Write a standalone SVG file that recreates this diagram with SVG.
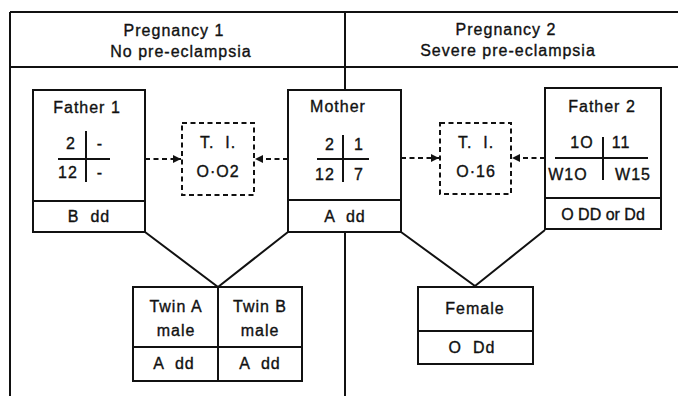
<svg xmlns="http://www.w3.org/2000/svg" width="678" height="396" viewBox="0 0 678 396">
<style>
text{font-family:"Liberation Sans","DejaVu Sans",sans-serif;font-size:16px;fill:#111;stroke:#111;stroke-width:0.35;text-anchor:middle;letter-spacing:1px;white-space:pre}
.b{fill:#fff;stroke:#111;stroke-width:2}
.l{stroke:#111;stroke-width:2;fill:none}
.d{stroke:#111;stroke-width:2;fill:none;stroke-dasharray:5 3.5}
.dl{stroke:#111;stroke-width:1.8;fill:none;stroke-dasharray:5 3.5}
</style>
<defs>
<marker id="a" viewBox="0 0 10 10" refX="10" refY="5" markerWidth="10" markerHeight="8" markerUnits="userSpaceOnUse" orient="auto"><path d="M0,0 L10,5 L0,10 z" fill="#111"/></marker>
</defs>
<g id="frame">
<path class="l" d="M10,12 H678 M10,12 V396 M10,67 H678 M345,12 V90 M345,232 V396"/>
<text x="174" y="36">Pregnancy 1</text>
<text x="181" y="57">No pre-eclampsia</text>
<text x="506" y="35">Pregnancy 2</text>
<text x="508" y="56">Severe pre-eclampsia</text>
</g>
<g id="connectors">
<path class="dl" d="M145,159 H181" marker-end="url(#a)"/>
<path class="dl" d="M288,159 H255" marker-end="url(#a)"/>
<path class="dl" d="M401,158 H439" marker-end="url(#a)"/>
<path class="dl" d="M545,158 H512" marker-end="url(#a)"/>
<path class="l" d="M145,232 L218,287 L288,232"/>
<path class="l" d="M401,232 L475,286 L545,230"/>
</g>
<g id="father1">
<rect class="b" x="33" y="90" width="112" height="142"/>
<line class="l" x1="33" y1="201" x2="145" y2="201"/>
<text x="87" y="113">Father 1</text>
<path class="l" d="M58,159 H110 M86,131 V182"/>
<text x="71" y="149">2</text><text x="100" y="149">-</text>
<text x="68" y="178">12</text><text x="100" y="178">-</text>
<text x="89" y="222">B  dd</text>
</g>
<g id="ti1">
<rect class="d" x="182" y="123" width="72" height="72"/>
<text x="218" y="148">T.  I.</text>
<text x="218" y="177">O·O2</text>
</g>
<g id="mother">
<rect class="b" x="288" y="90" width="113" height="142"/>
<line class="l" x1="288" y1="200" x2="401" y2="200"/>
<text x="338" y="112">Mother</text>
<path class="l" d="M317,159 H369 M343,135 V182"/>
<text x="330" y="150">2</text><text x="359" y="150">1</text>
<text x="325" y="180">12</text><text x="359" y="180">7</text>
<text x="345" y="222">A  dd</text>
</g>
<g id="ti2">
<rect class="d" x="440" y="123" width="71" height="71"/>
<text x="476" y="148">T.  I.</text>
<text x="476" y="177">O·16</text>
</g>
<g id="father2">
<rect class="b" x="545" y="88" width="116" height="141"/>
<line class="l" x1="545" y1="198" x2="661" y2="198"/>
<text x="602" y="112">Father 2</text>
<path class="l" d="M555,158 H648 M603,137 V180"/>
<text x="582" y="148">1O</text><text x="621" y="148">11</text>
<text x="568" y="180">W1O</text><text x="633" y="180">W15</text>
<text x="603" y="220" style="letter-spacing:0">O DD or Dd</text>
</g>
<g id="twins">
<rect class="b" x="133" y="287" width="169" height="94"/>
<path class="l" d="M218,287 V381 M133,347 H302"/>
<text x="176" y="312">Twin A</text>
<text x="176" y="336">male</text>
<text x="260" y="312">Twin B</text>
<text x="260" y="336">male</text>
<text x="174" y="369">A  dd</text>
<text x="260" y="369">A  dd</text>
</g>
<g id="female">
<rect class="b" x="418" y="287" width="115" height="77"/>
<line class="l" x1="418" y1="331" x2="533" y2="331"/>
<text x="475" y="314">Female</text>
<text x="472" y="353">O  Dd</text>
</g>
</svg>
